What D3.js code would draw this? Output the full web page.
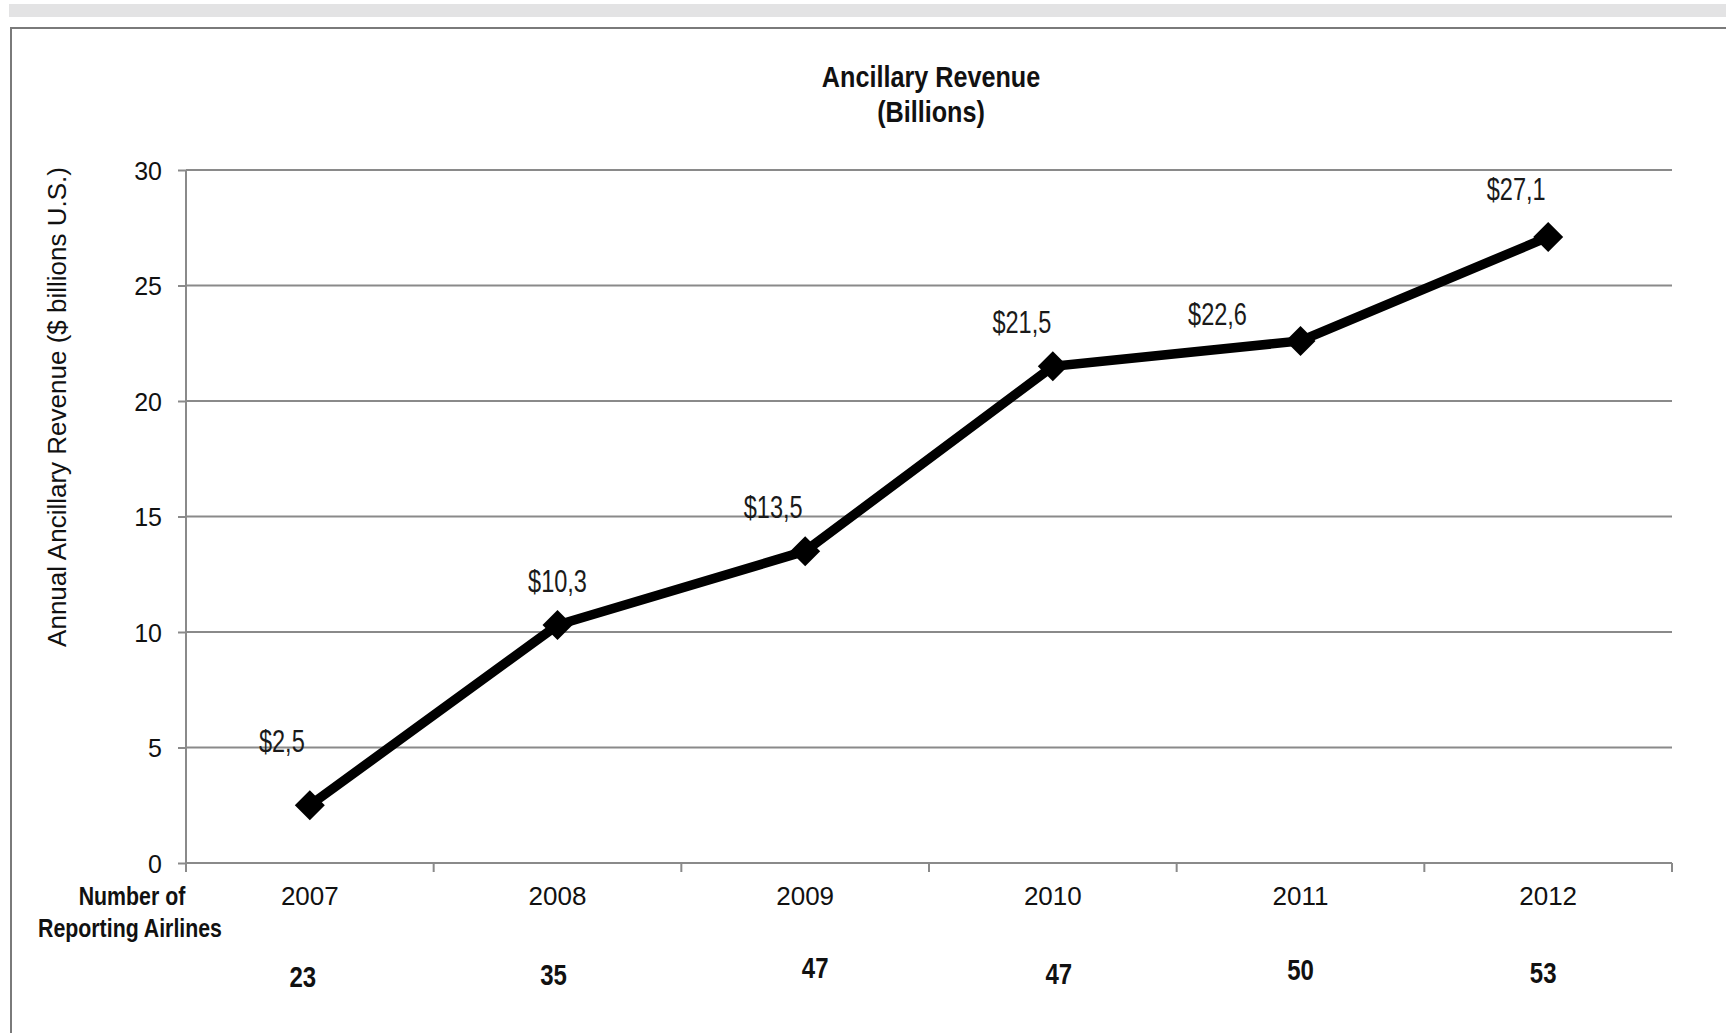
<!DOCTYPE html>
<html>
<head>
<meta charset="utf-8">
<script src="https://cdn.jsdelivr.net/npm/d3@7"></script>
<style>
  html, body { margin: 0; padding: 0; background: #ffffff; }
  svg { display: block; }
  text { font-family: "Liberation Sans", Arial, sans-serif; }
</style>
</head>
<body>
<svg id="chart" width="1726" height="1033"></svg>
<script>
// Ancillary revenue by year, in billions of US dollars
const years = ["2007", "2008", "2009", "2010", "2011", "2012"];
const revenue = [2.5, 10.3, 13.5, 21.5, 22.6, 27.1];
// Number of airlines reporting ancillary revenue in each year
const airlineCounts = [23, 35, 47, 47, 50, 53];
const yTicks = [0, 5, 10, 15, 20, 25, 30];

// Hand-placed offsets for the value labels (relative to each marker)
const valueLabelShift = [[-28, -53], [0, -33], [-32, -33], [-31, -33], [-83, -16], [-32, -37]];
// Hand-placed offsets for the airline counts (relative to band centre / axis line)
const countShift = [[-7, 124], [-4, 122], [10, 115], [6, 121], [0, 117], [-5, 120]];

const svg = d3.select("#chart");
const W = 1726, H = 1033;
const plot = { left: 186, right: 1672, top: 170, bottom: 863 };
const gridColor = "#8a8a8a";

// Place a text horizontally condensed around its anchor point
function narrowAt(sel, xf, yf, squeeze) {
  return sel.attr("transform", (d, i) => `translate(${xf(d, i)},${yf(d, i)}) scale(${squeeze},1)`);
}

// Page decoration: grey band and the chart frame
svg.append("rect").attr("x", 9).attr("y", 4).attr("width", W - 9).attr("height", 13).attr("fill", "#e3e3e4");
svg.append("path")
  .attr("d", `M${W},28 H11 V${H}`)
  .attr("fill", "none").attr("stroke", "#7a7a7a").attr("stroke-width", 2);

const x = d3.scaleBand().domain(years).range([plot.left, plot.right]).padding(0);
const y = d3.scaleLinear().domain([0, 30]).range([plot.bottom, plot.top]);
const cx = d => x(d) + x.bandwidth() / 2;

// Horizontal gridlines
svg.append("g")
  .selectAll("line")
  .data(yTicks.filter(t => t > 0))
  .join("line")
  .attr("x1", plot.left).attr("x2", plot.right)
  .attr("y1", d => y(d)).attr("y2", d => y(d))
  .attr("stroke", gridColor).attr("stroke-width", 2);

// Y axis
const yAxis = svg.append("g")
  .attr("transform", `translate(${plot.left},0)`)
  .call(d3.axisLeft(y).tickValues(yTicks).tickSize(8).tickPadding(16).tickSizeOuter(0));
yAxis.select(".domain").remove();
yAxis.selectAll(".tick line").attr("stroke", gridColor).attr("stroke-width", 2);
yAxis.selectAll(".tick text")
  .attr("font-family", "Liberation Sans, Arial, sans-serif")
  .attr("font-size", 25).attr("fill", "#111").attr("dy", "0.36em");
svg.append("line")
  .attr("x1", plot.left).attr("x2", plot.left)
  .attr("y1", plot.top).attr("y2", plot.bottom + 9)
  .attr("stroke", gridColor).attr("stroke-width", 2);

// X axis: baseline, band-boundary ticks, year labels
svg.append("line")
  .attr("x1", plot.left).attr("x2", plot.right)
  .attr("y1", plot.bottom).attr("y2", plot.bottom)
  .attr("stroke", gridColor).attr("stroke-width", 2);
const boundaries = years.map(d => x(d)).concat([x(years[years.length - 1]) + x.bandwidth()]);
svg.append("g")
  .selectAll("line")
  .data(boundaries)
  .join("line")
  .attr("x1", d => d).attr("x2", d => d)
  .attr("y1", plot.bottom).attr("y2", plot.bottom + 9)
  .attr("stroke", gridColor).attr("stroke-width", 2);
const xAxis = svg.append("g")
  .attr("transform", `translate(0,${plot.bottom})`)
  .call(d3.axisBottom(x).tickSize(0).tickPadding(0));
xAxis.select(".domain").remove();
xAxis.selectAll(".tick text")
  .attr("font-family", "Liberation Sans, Arial, sans-serif")
  .attr("font-size", 26).attr("fill", "#111")
  .attr("dy", null).attr("y", 42);

// Row header for the airline counts
const rowHead = [["Number of", 132, 905], ["Reporting Airlines", 130, 937]];
narrowAt(
  svg.append("g").selectAll("text").data(rowHead).join("text")
    .attr("font-size", 26).attr("font-weight", "bold").attr("fill", "#111")
    .attr("text-anchor", "middle")
    .text(d => d[0]),
  d => d[1], d => d[2], 0.82);

// Airline counts
narrowAt(
  svg.append("g").selectAll("text").data(years).join("text")
    .attr("font-size", 30).attr("font-weight", "bold").attr("fill", "#111")
    .attr("text-anchor", "middle")
    .text((d, i) => airlineCounts[i]),
  (d, i) => cx(d) + countShift[i][0],
  (d, i) => plot.bottom + countShift[i][1], 0.8);

// Revenue line with diamond markers
const points = years.map((d, i) => [cx(d), y(revenue[i])]);
svg.append("path")
  .attr("d", d3.line()(points))
  .attr("fill", "none").attr("stroke", "#000").attr("stroke-width", 9.5)
  .attr("stroke-linejoin", "miter");
svg.append("g")
  .selectAll("path")
  .data(points)
  .join("path")
  .attr("transform", d => `translate(${d[0]},${d[1]})`)
  .attr("d", "M0,-15 L15,0 L0,15 L-15,0 Z")
  .attr("fill", "#000");

// Value labels
const fmt = v => "$" + v.toFixed(1).replace(".", ",");
narrowAt(
  svg.append("g").selectAll("text").data(points).join("text")
    .attr("font-size", 31).attr("fill", "#1a1a1a")
    .attr("text-anchor", "middle")
    .text((d, i) => fmt(revenue[i])),
  (d, i) => d[0] + valueLabelShift[i][0],
  (d, i) => d[1] + valueLabelShift[i][1], 0.76);

// Title
const titleLines = [["Ancillary Revenue", 87], ["(Billions)", 122]];
narrowAt(
  svg.append("g").selectAll("text").data(titleLines).join("text")
    .attr("font-size", 30).attr("font-weight", "bold").attr("fill", "#111")
    .attr("text-anchor", "middle")
    .text(d => d[0]),
  () => 931, d => d[1], 0.84);

// Y axis title
svg.append("text")
  .attr("font-size", 26).attr("fill", "#111")
  .attr("text-anchor", "middle")
  .attr("transform", "translate(66,407) rotate(-90)")
  .text("Annual Ancillary Revenue ($ billions U.S.)");
</script>
</body>
</html>
